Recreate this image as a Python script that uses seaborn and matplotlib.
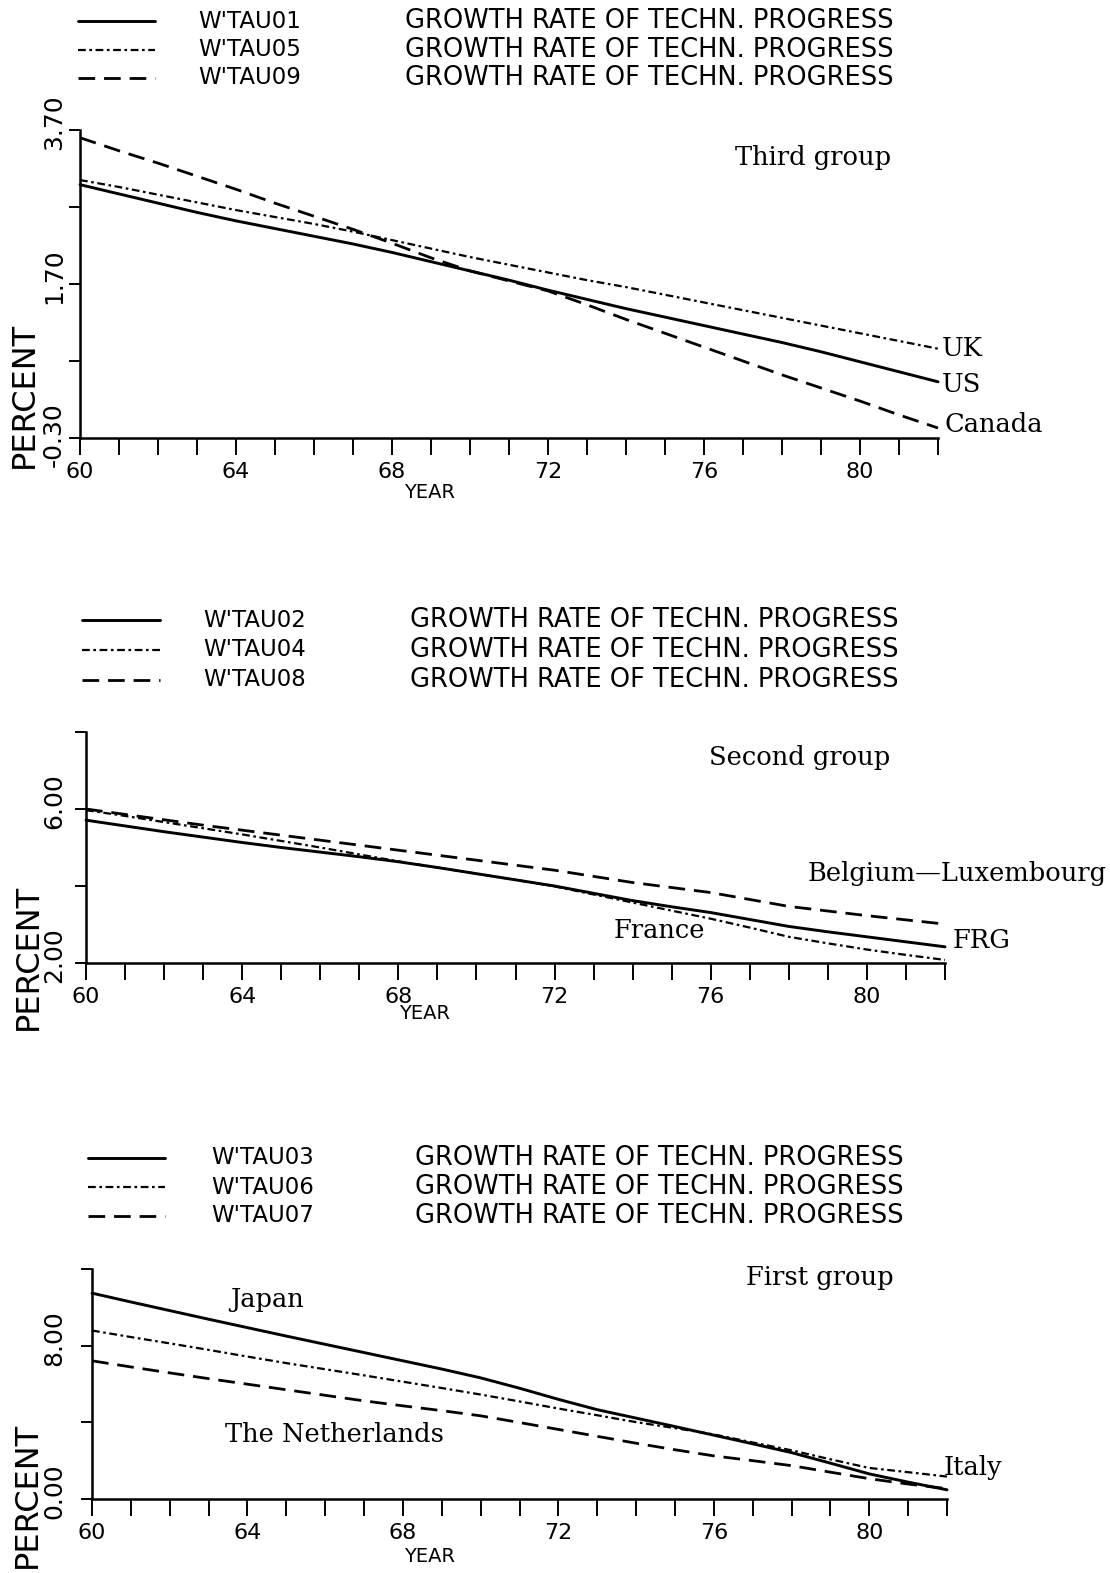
import matplotlib
matplotlib.use("Agg")
import matplotlib.pyplot as plt
import matplotlib.transforms as mtrans
from matplotlib.ticker import FixedLocator, NullFormatter
import pandas as pd
import seaborn as sns

sns.set_style("ticks")
plt.rcParams['font.family'] = ['DejaVu Sans']
plt.rcParams['text.color'] = 'black'
plt.rcParams['xtick.color'] = 'black'
plt.rcParams['ytick.color'] = 'black'

years = list(range(1960, 1983))

# third group
us = [2.99, 2.87, 2.75, 2.63, 2.52, 2.42, 2.32, 2.22, 2.11, 1.99, 1.87, 1.75,
      1.62, 1.50, 1.38, 1.27, 1.16, 1.05, 0.94, 0.82, 0.69, 0.56, 0.43]
uk = [3.05, 2.96, 2.86, 2.76, 2.66, 2.57, 2.48, 2.38, 2.27, 2.16, 2.05, 1.95,
      1.85, 1.75, 1.66, 1.56, 1.46, 1.36, 1.26, 1.16, 1.06, 0.96, 0.86]
canada = [3.60, 3.43, 3.27, 3.10, 2.93, 2.75, 2.58, 2.41, 2.23, 2.04, 1.87, 1.74,
          1.61, 1.43, 1.24, 1.06, 0.88, 0.70, 0.52, 0.35, 0.18, 0.00, -0.17]

# second group
frg = [5.71, 5.56, 5.41, 5.27, 5.13, 5.00, 4.88, 4.76, 4.63, 4.48, 4.32, 4.16,
       4.00, 3.81, 3.62, 3.46, 3.31, 3.13, 2.95, 2.81, 2.68, 2.55, 2.42]
france = [5.97, 5.82, 5.66, 5.50, 5.34, 5.17, 5.00, 4.82, 4.64, 4.48, 4.32, 4.16,
          3.99, 3.78, 3.57, 3.36, 3.15, 2.92, 2.68, 2.51, 2.35, 2.21, 2.08]
belux = [6.00, 5.86, 5.72, 5.58, 5.45, 5.32, 5.19, 5.06, 4.93, 4.80, 4.67, 4.54,
         4.41, 4.25, 4.09, 3.96, 3.83, 3.65, 3.47, 3.35, 3.23, 3.12, 3.01]

# first group
japan = [10.74, 10.28, 9.83, 9.38, 8.94, 8.50, 8.07, 7.64, 7.21, 6.78, 6.32, 5.78,
         5.20, 4.66, 4.22, 3.78, 3.33, 2.88, 2.42, 1.87, 1.31, 0.88, 0.48]
italy = [8.79, 8.45, 8.12, 7.78, 7.43, 7.09, 6.77, 6.45, 6.12, 5.79, 5.45, 5.09,
         4.72, 4.37, 4.01, 3.70, 3.37, 2.95, 2.54, 2.07, 1.62, 1.40, 1.17]
neth = [7.21, 6.89, 6.58, 6.28, 5.99, 5.70, 5.41, 5.12, 4.86, 4.61, 4.34, 3.99,
        3.63, 3.27, 2.91, 2.57, 2.25, 2.00, 1.74, 1.40, 1.06, 0.78, 0.54]

W, H = 1110, 1573
fig = plt.figure(figsize=(W / 100, H / 100), dpi=100)

def fx(x):
    return x / W

def fy(y):
    return 1 - y / H

solid = dict(ls='-', lw=2.1)
dashdot = dict(ls=(0, (3.5, 1.6, 1.2, 1.6)), lw=1.6)
dashed = dict(ls=(0, (6, 3.2)), lw=2.0)

serif = ['DejaVu Serif']
cw = {'.': 0.318, '-': 0.361}

def ylabel_tick(ax, v, s, size=18):
    # put the decimal point of the rotated label on the tick
    a, b = s.split('.')
    wa = sum(cw.get(c, 0.636) for c in a)
    wb = sum(cw.get(c, 0.636) for c in b)
    dy = (wb - wa) / 2 * size
    tr = mtrans.blended_transform_factory(fig.transFigure, ax.transData)
    tr = mtrans.offset_copy(tr, fig=fig, y=dy, units='points')
    ax.text(fx(54), v, s, transform=tr, rotation=90, ha='center', va='center',
            fontsize=size, color='black')

panels = [
    dict(box=(80, 130, 938, 438), ylim=(-0.3, 3.7), major=[-0.3, 1.7, 3.7],
         minor=[0.7, 2.7], labels=['-0.30', '1.70', '3.70'],
         series=[(us, solid), (uk, dashdot), (canada, dashed)],
         codes=["W'TAU01", "W'TAU05", "W'TAU09"], leg_y=[21, 50, 78], leg_x=(78, 155, 198, 405),
         percent=(24, 395), year=(430, 492)),
    dict(box=(86, 732, 945, 963), ylim=(2, 8), major=[2, 6], minor=[4, 8],
         labels=['2.00', '6.00'],
         series=[(frg, solid), (france, dashdot), (belux, dashed)],
         codes=["W'TAU02", "W'TAU04", "W'TAU08"], leg_y=[620, 650, 680], leg_x=(82, 160, 203, 410),
         percent=(28, 957), year=(425, 1014)),
    dict(box=(92, 1269, 947, 1499), ylim=(0, 12), major=[0, 8], minor=[4, 12],
         labels=['0.00', '8.00'],
         series=[(japan, solid), (italy, dashdot), (neth, dashed)],
         codes=["W'TAU03", "W'TAU06", "W'TAU07"], leg_y=[1158, 1187, 1216], leg_x=(88, 165, 211, 415),
         percent=(27, 1495), year=(430, 1556)),
]

for p in panels:
    x0, y0, x1, y1 = p['box']
    ax = fig.add_axes([fx(x0), fy(y1), (x1 - x0) / W, (y1 - y0) / H])
    for vals, st in p['series']:
        df = pd.DataFrame({'year': years, 'v': vals})
        sns.lineplot(data=df, x='year', y='v', ax=ax, color='black',
                     linestyle=st['ls'], lw=st['lw'], clip_on=False)
    ax.set_xlim(1960, 1982)
    ax.set_ylim(*p['ylim'])
    ax.set_xlabel('')
    ax.set_ylabel('')
    for sp in ['top', 'right']:
        ax.spines[sp].set_visible(False)
    for sp in ['left', 'bottom']:
        ax.spines[sp].set_linewidth(1.8)
        ax.spines[sp].set_color('black')
    ax.xaxis.set_major_locator(FixedLocator([1960, 1964, 1968, 1972, 1976, 1980]))
    ax.xaxis.set_minor_locator(FixedLocator(years))
    ax.set_xticklabels(['60', '64', '68', '72', '76', '80'])
    ax.tick_params(axis='x', which='both', direction='out', length=12, width=1.4,
                   color='black', labelsize=16, labelcolor='black', pad=5)
    ax.yaxis.set_major_locator(FixedLocator(p['major']))
    ax.yaxis.set_minor_locator(FixedLocator(p['minor']))
    ax.yaxis.set_major_formatter(NullFormatter())
    ax.tick_params(axis='y', which='both', direction='out', length=8, width=1.4,
                   color='black')
    for v, s in zip(p['major'], p['labels']):
        ylabel_tick(ax, v, s)

    fig.text(fx(p['percent'][0]), fy(p['percent'][1]), 'PERCENT', rotation=90,
             ha='center', va='center', fontsize=23)
    fig.text(fx(p['year'][0]), fy(p['year'][1]), 'YEAR', ha='center', va='center',
             fontsize=14)

    # legend block above each panel
    lx0, lx1, tx_code, tx_desc = p['leg_x']
    for (vals, st), code, ly in zip(p['series'], p['codes'], p['leg_y']):
        fig.add_artist(plt.Line2D([fx(lx0), fx(lx1)], [fy(ly), fy(ly)], color='black',
                                  linestyle=st['ls'], lw=st['lw'], transform=fig.transFigure))
        fig.text(fx(tx_code), fy(ly), code, ha='left', va='center', fontsize=16.5)
        fig.text(fx(tx_desc), fy(ly), 'GROWTH RATE OF TECHN. PROGRESS', ha='left',
                 va='center', fontsize=18.5)

# group titles and country labels
notes = [
    ('Third group', 813, 157, 'center'),
    ('UK', 942, 349, 'left'),
    ('US', 942, 384, 'left'),
    ('Canada', 944, 425, 'left'),
    ('Second group', 800, 757, 'center'),
    ('Belgium\u2014Luxembourg', 808, 874, 'left'),
    ('France', 614, 930, 'left'),
    ('FRG', 953, 940, 'left'),
    ('First group', 820, 1277, 'center'),
    ('Japan', 230, 1300, 'left'),
    ('The Netherlands', 225, 1434, 'left'),
    ('Italy', 944, 1468, 'left'),
]
for s, x, y, ha in notes:
    fig.text(fx(x), fy(y), s, ha=ha, va='center', fontsize=18.5, family=serif)

fig.savefig('out.png', dpi=100, facecolor='white')
